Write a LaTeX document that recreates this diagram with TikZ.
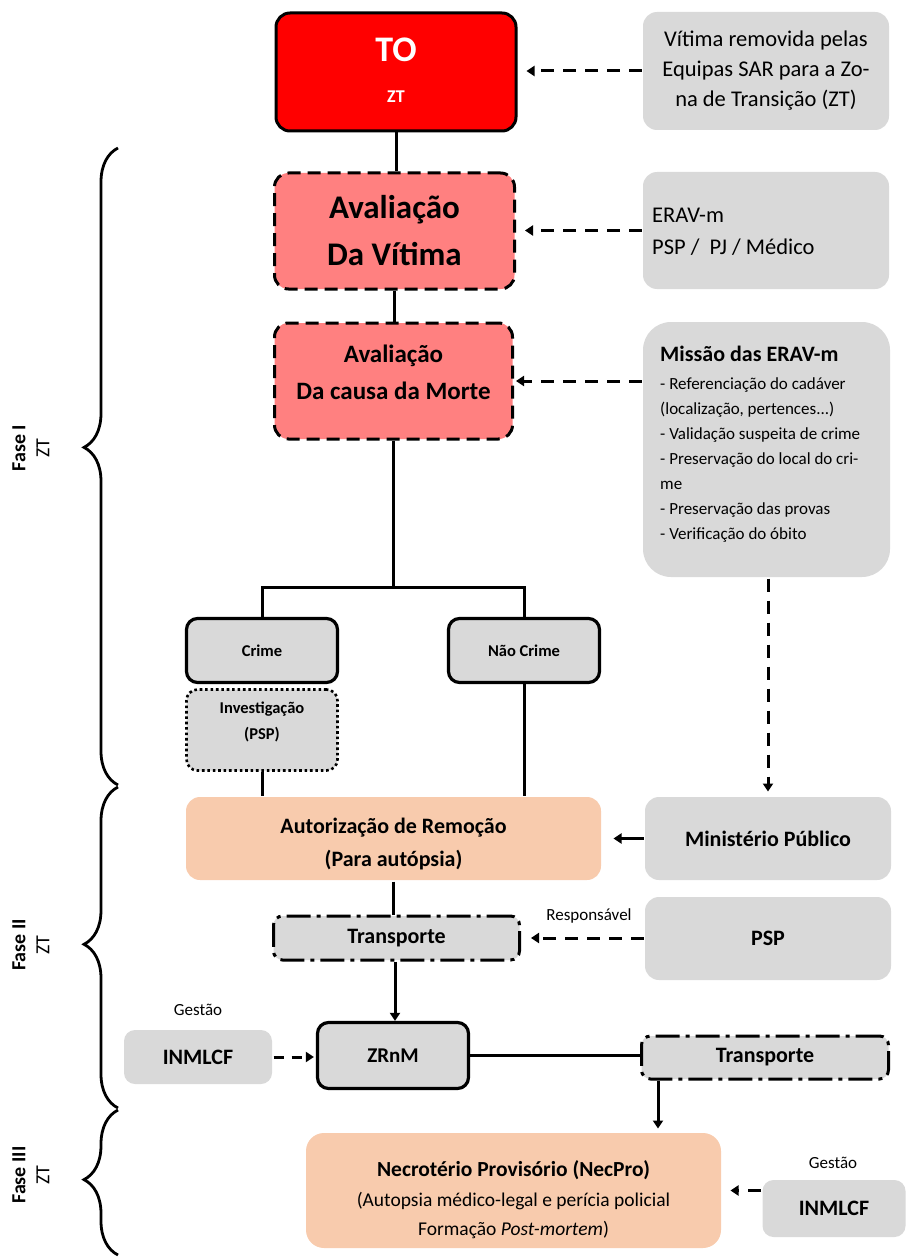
\documentclass[tikz,border=0pt]{standalone}
\usepackage{fontspec}
\setmainfont{Carlito}
\usetikzlibrary{arrows.meta,decorations.pathreplacing,calc}
\definecolor{tored}{HTML}{FF0000}
\definecolor{pinkfill}{HTML}{FF8080}
\definecolor{boxgray}{HTML}{D9D9D9}
\definecolor{peach}{HTML}{F8CBAD}
\newcommand{\fs}[2]{\fontsize{#1}{#2}\selectfont}
\tikzset{
  base/.style={rectangle, rounded corners=14pt, inner sep=0pt, align=center, line width=3pt},
  graybox/.style={base, fill=boxgray},
  peachbox/.style={base, fill=peach},
  redbox/.style={base, fill=tored, draw=black},
  pinkbox/.style={base, fill=pinkfill, draw=black, dash pattern=on 13pt off 7pt},
  critbox/.style={base, fill=boxgray, draw=black, rounded corners=11pt, line width=3.2pt},
  dotbox/.style={base, fill=boxgray, draw=black, rounded corners=11pt, line width=2.6pt, dash pattern=on 2.6pt off 2.8pt},
  ddbox/.style={base, fill=boxgray, draw=black, rounded corners=9pt, dash pattern=on 24pt off 6pt on 4pt off 6pt},
  conn/.style={line width=3pt},
  tip/.style={-{Triangle[length=8pt,width=10pt]}},
  dasharrow/.style={conn, tip, dash pattern=on 13pt off 9pt},
  solidarrow/.style={conn, tip},
  phase/.style={line width=2.8pt, decorate, decoration={brace, amplitude=34pt, aspect=#1}},
  lbl/.style={inner sep=0pt, align=center}
}
\begin{document}
\begin{tikzpicture}[x=1pt,y=-1pt]
\useasboundingbox (0,0) rectangle (905,1260);
% nodes
\node[redbox, minimum width=240pt, minimum height=118pt] (TO) at (396,72) {};
\node[lbl, text=white, font=\fs{36}{40}\bfseries] (TOtxt) at (396,50) {TO};
\node[lbl, text=white, font=\fs{18}{20}\bfseries] (ZTtxt) at (396,97) {ZT};
\node[graybox, minimum width=246pt, minimum height=118pt, font=\fs{22.5}{30}] (victim) at (766,71)
  {Vítima removida pelas\\Equipas SAR para a Zo-\\na de Transição (ZT)};
\node[pinkbox, minimum width=240pt, minimum height=116pt, font=\fs{33}{47}\bfseries] (avalV) at (394.5,231)
  {Avaliação\\Da Vítima};
\node[graybox, minimum width=246pt, minimum height=117pt] (erav) at (766,230.5) {};
\node[lbl, align=left, anchor=west, font=\fs{22.5}{32}] (eravtxt) at (652,232)
  {ERAV-m\\PSP /\ \ PJ / Médico};
\node[pinkbox, minimum width=238pt, minimum height=116pt] (avalC) at (393.5,381) {};
\node[lbl, font=\fs{25}{37}\bfseries] (avalCtxt) at (393.5,372)
  {Avaliação\\Da causa da Morte};
\node[graybox, rounded corners=28pt, minimum width=247pt, minimum height=255pt] (missao) at (766.5,449.5) {};
\node[lbl, align=left, anchor=north west, font=\fs{17}{25}] (missaotxt) at (660,346)
  {{\fs{22}{26}\bfseries Missão das ERAV-m}\\[3pt]
   - Referenciação do cadáver\\
   (localização, pertences...)\\
   - Validação suspeita de crime\\
   - Preservação do local do cri-\\
   me\\
   - Preservação das provas\\
   - Verificação do óbito};
\node[critbox, minimum width=151pt, minimum height=64pt, font=\fs{16.5}{20}\bfseries] (crime) at (262,650.5)
  {Crime};
\node[critbox, minimum width=151pt, minimum height=64pt, font=\fs{16.5}{20}\bfseries] (naocrime) at (524,650.5)
  {Não Crime};
\node[dotbox, minimum width=151pt, minimum height=81pt] (invest) at (262,730) {};
\node[lbl, font=\fs{16.5}{26}\bfseries] (investtxt) at (262,722)
  {Investigação\\(PSP)};
\node[peachbox, minimum width=415pt, minimum height=83pt] (autor) at (393.5,838.5) {};
\node[lbl, font=\fs{22}{33}\bfseries] (autortxt) at (393.5,844)
  {Autorização de Remoção\\(Para autópsia)};
\node[graybox, minimum width=246pt, minimum height=83pt, font=\fs{22}{26}\bfseries] (mp) at (768,838.5)
  {Ministério Público};
\node[ddbox, minimum width=246pt, minimum height=44pt, font=\fs{22}{26}\bfseries] (transp1) at (396.5,938)
  {Transporte};
\node[graybox, minimum width=246pt, minimum height=83pt, font=\fs{22}{26}\bfseries] (psp) at (768,938.5)
  {PSP};
\node[lbl, font=\fs{17}{20}] (resp) at (589,916) {Responsável};
\node[critbox, minimum width=151pt, minimum height=66pt, font=\fs{21}{24}\bfseries] (zrnm) at (393,1055.5)
  {ZRnM};
\node[graybox, rounded corners=11pt, minimum width=148pt, minimum height=54pt, font=\fs{22}{26}\bfseries] (inml1) at (198,1057)
  {INMLCF};
\node[lbl, font=\fs{17}{20}] (gest1) at (198,1010) {Gestão};
\node[ddbox, minimum width=247pt, minimum height=43pt, font=\fs{22}{26}\bfseries] (transp2) at (765,1057.5)
  {Transporte};
\node[peachbox, rounded corners=18pt, minimum width=415pt, minimum height=115pt] (necpro) at (513.5,1190.5) {};
\node[lbl, font=\fs{19.5}{29.5}] (necprotxt) at (513.5,1200)
  {{\fs{21.5}{30}\bfseries Necrotério Provisório (NecPro)}\\
   (Autopsia médico-legal e perícia policial\\
   Formação \textit{Post-mortem})};
\node[graybox, rounded corners=11pt, minimum width=143pt, minimum height=57pt, font=\fs{22}{26}\bfseries] (inml2) at (834,1208.5)
  {INMLCF};
\node[lbl, font=\fs{17}{20}] (gest2) at (833,1163) {Gestão};
% connectors
\coordinate (split) at (393,587);
\draw[conn] (TO.south) -- (TO.south |- avalV.north);
\draw[conn] (avalV.south) -- (avalV.south |- avalC.north);
\draw[conn] (avalC.south) -- (avalC.south |- split);
\draw[conn] (crime.north) -- (crime.north |- split) -- (naocrime.north |- split) -- (naocrime.north);
\draw[conn] (invest.south) -- (invest.south |- autor.north);
\draw[conn] (naocrime.south) -- (naocrime.south |- autor.north);
\draw[conn] (autor.south) -- (autor.south |- transp1.north);
\draw[dasharrow, shorten >=9pt] (victim.west) -- (victim.west -| TO.east);
\draw[dasharrow, shorten >=9pt] (erav.west) -- (erav.west -| avalV.east);
\draw[dasharrow, shorten >=2pt] (avalC.east -| missao.west) -- (avalC.east);
\draw[dasharrow, shorten >=4pt] (mp.north |- missao.south) -- (mp.north);
\draw[solidarrow, shorten >=11pt] (mp.west) -- (mp.west -| autor.east);
\draw[dasharrow, shorten >=10pt] (psp.west |- transp1.east) -- (transp1.east);
\draw[solidarrow] ([xshift=-1.5pt]transp1.south) -- ([xshift=-1.5pt]transp1.south |- zrnm.north);
\draw[conn, tip, dash pattern=on 10pt off 8pt, shorten >=2pt] (inml1.east) -- (inml1.east -| zrnm.west);
\draw[conn] (zrnm.east) -- (zrnm.east -| transp2.west);
\coordinate (t2out) at ($(transp2.south west)+(18,0)$);
\draw[solidarrow, shorten >=3pt] (t2out) -- (t2out |- necpro.north);
\draw[dasharrow, shorten >=8pt] (inml2.west |- necpro.east) -- (necpro.east);
% phase braces
\draw[phase=0.53] (118,785) -- (118,148);
\draw[phase=0.51] (118,1108) -- (118,787);
\draw[phase=0.52] (118,1255) -- (118,1110);
\node[lbl, rotate=90, font=\fs{20}{24}] (f1) at (31,448) {\textbf{Fase I}\\ZT};
\node[lbl, rotate=90, font=\fs{20}{24}] (f2) at (31,945) {\textbf{Fase II}\\ZT};
\node[lbl, rotate=90, font=\fs{20}{24}] (f3) at (31,1175) {\textbf{Fase III}\\ZT};
\end{tikzpicture}
\end{document}
